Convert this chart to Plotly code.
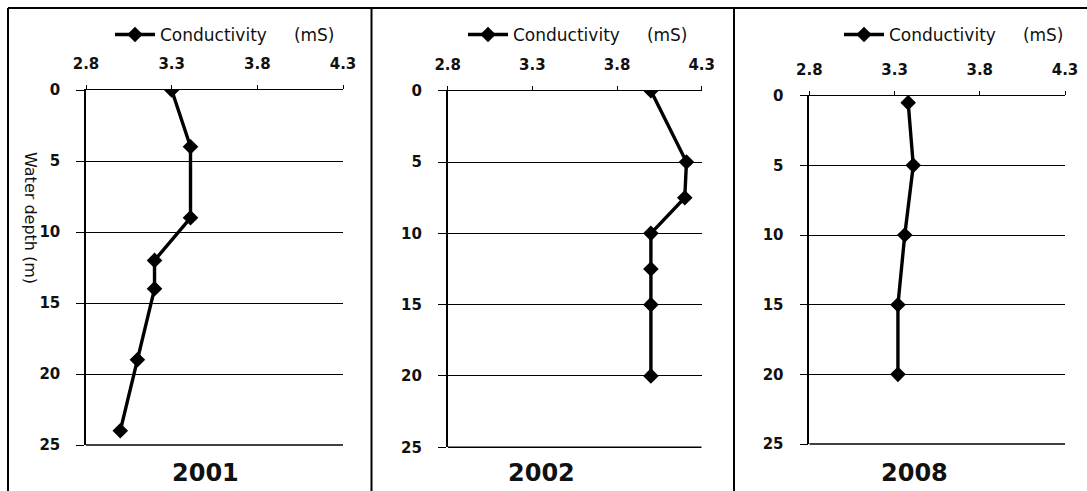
import plotly.graph_objects as go

# Conductivity profiles (mS) against water depth (m) for three survey years
years = ["2001", "2002", "2008"]
depth_2001 = [0, 4, 9, 12, 14, 19, 24]
cond_2001 = [3.30, 3.41, 3.41, 3.20, 3.20, 3.10, 3.00]
depth_2002 = [0, 5, 7.5, 10, 12.5, 15, 20]
cond_2002 = [4.00, 4.21, 4.20, 4.00, 4.00, 4.00, 4.00]
depth_2008 = [0.5, 5, 10, 15, 20]
cond_2008 = [3.38, 3.41, 3.36, 3.32, 3.32]

x_ticks = [2.8, 3.3, 3.8, 4.3]
y_ticks = [0, 5, 10, 15, 20, 25]
series_name = "Conductivity\u00a0\u00a0\u00a0\u00a0\u00a0(mS)"

W, H = 1087, 491

def px_x(p):
    return p / W

def px_y(p):
    return 1 - p / H

# panel geometry in pixels: (x_left, x_right, y_top, y_bottom, legend_x, label_x)
panels = [
    (86, 343, 90, 445, 113, 205),
    (447.7, 701.7, 90.7, 447.3, 466, 541),
    (809.3, 1065, 95.7, 444, 842, 914),
]
profiles = [(cond_2001, depth_2001), (cond_2002, depth_2002), (cond_2008, depth_2008)]

tick_font = dict(family="DejaVu Sans", size=15, color="#111111", weight="bold")

fig = go.Figure()
layout = dict(
    width=W, height=H,
    margin=dict(l=0, r=0, t=0, b=0, autoexpand=False),
    paper_bgcolor="white", plot_bgcolor="white",
    showlegend=True,
)
annotations = []
shapes = []

for i, ((xl, xr, yt, yb, lx, cx), (cond, depth), yr) in enumerate(zip(panels, profiles, years)):
    n = "" if i == 0 else str(i + 1)
    leg = "legend" + n
    fig.add_trace(go.Scatter(
        x=cond, y=depth, mode="lines+markers", name=series_name,
        line=dict(color="black", width=3.4),
        marker=dict(symbol="diamond", size=12, color="black"),
        xaxis="x" + n, yaxis="y" + n, legend=leg,
    ))
    layout["xaxis" + n] = dict(
        domain=[px_x(xl), px_x(xr)], anchor="y" + n, side="top",
        range=[x_ticks[0], x_ticks[-1]], tickvals=x_ticks,
        ticktext=[f"{v:.1f}" for v in x_ticks],
        showgrid=False, zeroline=False, showline=True, linecolor="black", linewidth=1.3,
        ticks="outside", ticklen=4, tickcolor="black", tickwidth=1.2,
        ticklabelstandoff=10, tickfont=tick_font,
    )
    layout["yaxis" + n] = dict(
        domain=[px_y(yb), px_y(yt)], anchor="x" + n,
        range=[y_ticks[-1], y_ticks[0]], tickvals=y_ticks,
        showgrid=True, gridcolor="black", gridwidth=1.2, zeroline=False,
        showline=True, linecolor="black", linewidth=1.5,
        ticks="outside", ticklen=8, tickcolor="black", tickwidth=1.2,
        ticklabelstandoff=13, tickfont=tick_font,
    )
    # bottom gridline (deepest tick) sits on the plot edge, so draw it explicitly
    shapes.append(dict(
        type="line", xref="x" + n, yref="y" + n + " domain",
        x0=x_ticks[0], x1=x_ticks[-1], y0=0, y1=0,
        line=dict(color="black", width=1.4), layer="above",
    ))
    layout[leg] = dict(
        x=px_x(lx - 3), y=px_y(35), xanchor="left", yanchor="middle",
        bgcolor="rgba(0,0,0,0)", borderwidth=0,
        font=dict(family="DejaVu Sans", size=17, color="#111111"),
        itemwidth=40,
    )
    annotations.append(dict(
        text=f"<b>{yr}</b>", x=px_x(cx), y=px_y(473), xref="paper", yref="paper",
        xanchor="center", yanchor="middle", showarrow=False,
        font=dict(family="DejaVu Sans", size=24, color="#111111"),
    ))

annotations.append(dict(
    text="Water depth (m)", x=px_x(30), y=px_y(218), xref="paper", yref="paper",
    xanchor="center", yanchor="middle", showarrow=False, textangle=90,
    font=dict(family="DejaVu Sans", size=16, color="#111111"),
))

# frame around the three panels
border = dict(color="black", width=2)
shapes.append(dict(type="line", xref="paper", yref="paper",
                   x0=px_x(8), x1=1, y0=px_y(8), y1=px_y(8), line=border))
for bx in (8, 371.5, 734):
    shapes.append(dict(type="line", xref="paper", yref="paper",
                       x0=px_x(bx), x1=px_x(bx), y0=px_y(8), y1=0, line=border))

layout["annotations"] = annotations
layout["shapes"] = shapes
fig.update_layout(**layout)
fig.write_html("out.html")
